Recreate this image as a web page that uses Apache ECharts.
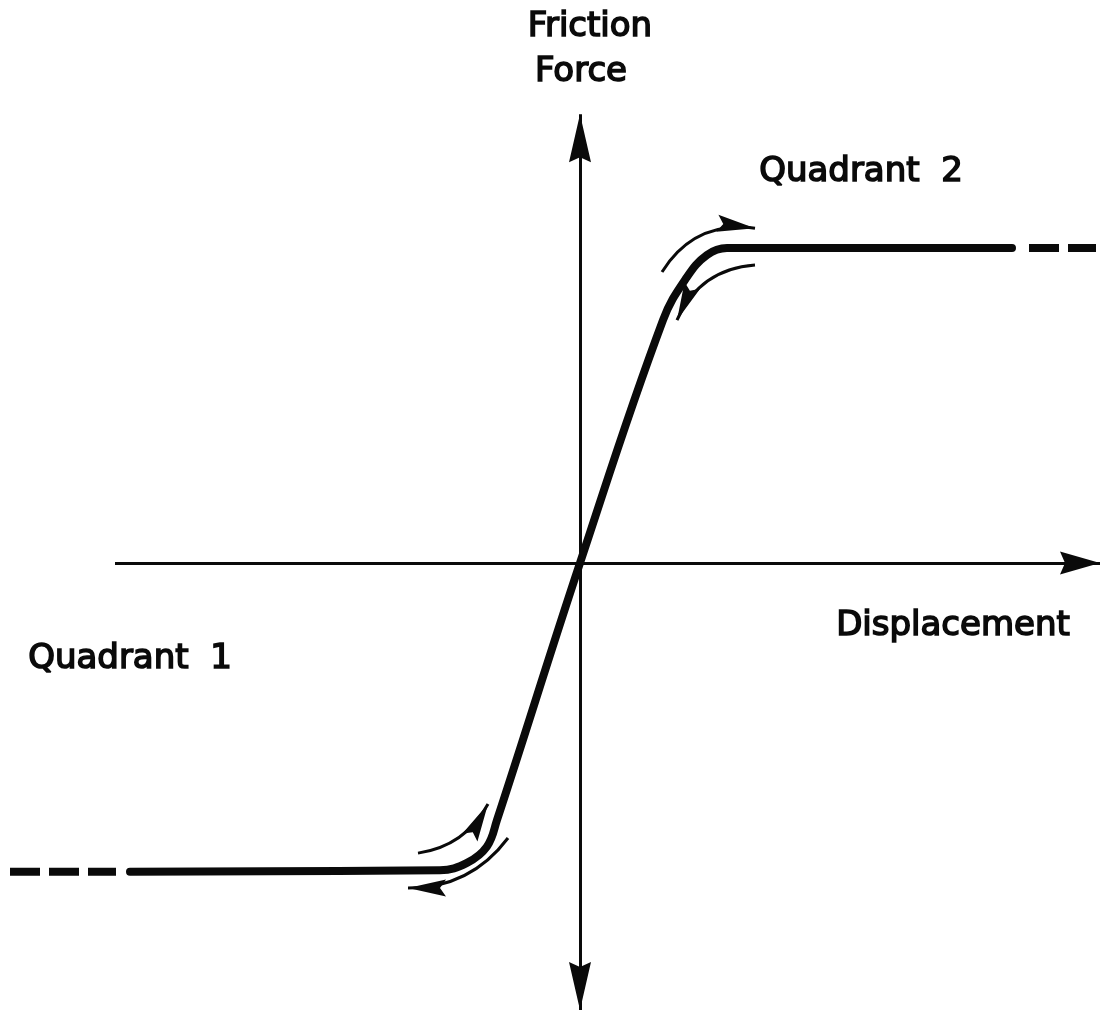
<!DOCTYPE html>
<html>
<head>
<meta charset="utf-8">
<script src="https://cdn.jsdelivr.net/npm/echarts@6/dist/echarts.min.js"></script>
<style>
  html, body { margin: 0; padding: 0; background: #fff; }
  #chart { width: 1105px; height: 1011px; }
</style>
</head>
<body>
<div id="chart"></div>
<script>
// displacement in units of ~knee, force normalised to the plateau level
const lowerDash = [[-5.7, -0.98], [-4.64, -0.98]];
const curve = [
  [-4.5, -0.98], [-1.4, -0.975], [-1.13, -0.952], [-0.93, -0.9], [-0.83, -0.816],
  [0, 0],
  [0.83, 0.771], [1.07, 0.908], [1.27, 0.978], [1.47, 1.0], [4.32, 1.0]
];
const upperDash = [[4.49, 1.0], [5.16, 1.0]];

const xAxisLine = [[-4.65, 0], [5.2, 0]];
const yAxisLine = [[0, -1.419], [0, 1.425]];

// small direction arrows: [start, tip], curveness
const loadArrows = [
  { coords: [[0.82, 0.924], [1.75, 1.063]], curveness: 0.32 },
  { coords: [[1.75, 0.946], [0.97, 0.771]], curveness: -0.3 },
  { coords: [[-1.62, -0.921], [-0.92, -0.765]], curveness: -0.25 },
  { coords: [[-0.72, -0.873], [-1.72, -1.032]], curveness: 0.25 }
];

const INK = '#0a0a0a';
const FONT = '34px "DejaVu Sans", sans-serif';

// arrow head w x len pixels; the empty first sub-path pads the box so the tip sits at the line end
function head(w, len, notch) {
  const c = w / 2;
  return {
    symbol: 'path://M' + c + ',' + (-len) + ' L' + (c + 0.01) + ',' + (-len) + ' Z ' +
      'M' + c + ',0 L' + w + ',' + len + ' L' + c + ',' + (len - notch) + ' L0,' + len + ' Z',
    size: [w, len * 2]
  };
}
const axisHeadV = head(22, 48, 5);
const axisHeadH = head(23, 40, 5);
const smallHead = head(17, 38, 6);

const chart = echarts.init(document.getElementById('chart'));

function label(text, x, y) {
  return {
    type: 'text',
    x: x,
    y: y,
    style: {
      text: text,
      fill: INK,
      font: FONT,
      align: 'center',
      verticalAlign: 'middle',
      stroke: INK,
      lineWidth: 1.6
    }
  };
}

const option = {
  animation: false,
  backgroundColor: '#fff',
  grid: { left: 0, right: 0, top: 0, bottom: 0 },
  xAxis: { type: 'value', min: -5.8, max: 5.25, show: false },
  yAxis: { type: 'value', min: -1.4222, max: 1.7873, show: false },
  graphic: [
    label('Friction', 590, 27),
    label('Force', 581, 72),
    label('Quadrant  2', 861, 172),
    label('Displacement', 953, 626),
    label('Quadrant  1', 130, 659)
  ],
  series: [
    {
      type: 'lines',
      coordinateSystem: 'cartesian2d',
      symbol: ['none', axisHeadH.symbol],
      symbolSize: [axisHeadH.size, axisHeadH.size],
      lineStyle: { color: INK, width: 3, opacity: 1 },
      data: [{ coords: xAxisLine }]
    },
    {
      type: 'lines',
      coordinateSystem: 'cartesian2d',
      symbol: [axisHeadV.symbol, axisHeadV.symbol],
      symbolSize: [axisHeadV.size, axisHeadV.size],
      lineStyle: { color: INK, width: 3, opacity: 1 },
      data: [{ coords: yAxisLine }]
    },
    {
      type: 'line',
      data: curve,
      smooth: 0.4,
      symbol: 'none',
      lineStyle: { color: INK, width: 8, cap: 'round', join: 'round' }
    },
    {
      type: 'line',
      data: lowerDash,
      symbol: 'none',
      lineStyle: { color: INK, width: 8, type: [30, 9] }
    },
    {
      type: 'line',
      data: upperDash,
      symbol: 'none',
      lineStyle: { color: INK, width: 8, type: [30, 9] }
    },
    {
      type: 'lines',
      coordinateSystem: 'cartesian2d',
      symbol: ['none', smallHead.symbol],
      symbolSize: [smallHead.size, smallHead.size],
      lineStyle: { color: INK, width: 3, opacity: 1 },
      data: loadArrows.map(a => ({ coords: a.coords, lineStyle: { curveness: a.curveness } }))
    }
  ]
};

chart.setOption(option);
</script>
</body>
</html>
